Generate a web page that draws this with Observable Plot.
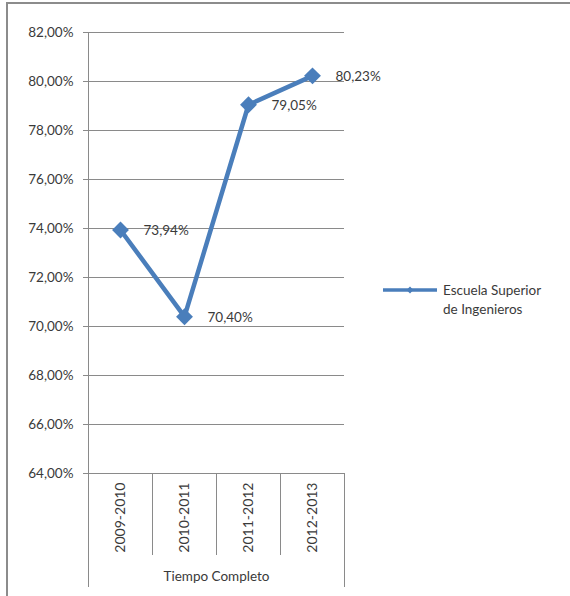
<!DOCTYPE html>
<html><head><meta charset="utf-8">
<script src="https://cdn.jsdelivr.net/npm/d3@7"></script>
<script src="https://cdn.jsdelivr.net/npm/@observablehq/plot@0.6"></script>
<style>
body{margin:0;background:#fff}
#chart{position:relative;width:570px;height:596px}
</style>
</head><body><div id="chart"></div>
<script>
const categories = ["2009-2010", "2010-2011", "2011-2012", "2012-2013"];
const values = [0.7394, 0.7040, 0.7905, 0.8023];
const yTicks = [0.64, 0.66, 0.68, 0.70, 0.72, 0.74, 0.76, 0.78, 0.80, 0.82];
const seriesName = ["Escuela Superior", "de Ingenieros"];
const axisTitle = "Tiempo Completo";

const data = categories.map((c, i) => ({cat: c, value: values[i]}));
const fmt = v => (v * 100).toFixed(2).replace(".", ",") + "%";

const W = 570, H = 596, mL = 88, mR = 226, mT = 32, mB = 123;
const blue = "#4a7ebb", gray = "#8a8a8a", ink = "#3a3a3a";
const font = "Lato, 'Open Sans', sans-serif";
const fs = "13.5px";

const plot = Plot.plot({
  width: W, height: H,
  marginLeft: mL, marginRight: mR, marginTop: mT, marginBottom: mB,
  style: {fontFamily: font, fontSize: fs, color: ink, background: "white", overflow: "visible"},
  x: {type: "band", domain: categories, padding: 0, label: null},
  y: {domain: [0.64, 0.82], label: null},
  marks: [
    Plot.gridY(yTicks, {stroke: gray, strokeOpacity: 1}),
    Plot.axisY(yTicks, {tickFormat: fmt, tickSize: 5, tickPadding: 10, stroke: gray, fill: ink, label: null}),
    Plot.axisX({tickRotate: -90, tickSize: 0, tickPadding: 9, label: null, fill: ink, fontSize: 14}),
    Plot.text([axisTitle], {text: d => d, frameAnchor: "bottom", lineAnchor: "middle", dy: 103, fill: ink}),
    Plot.line(data, {x: "cat", y: "value", stroke: blue, strokeWidth: 4.5}),
    Plot.dot(data, {x: "cat", y: "value", symbol: "diamond2", r: 7.6, fill: blue, stroke: "none"}),
    Plot.text(data, {x: "cat", y: "value", text: d => fmt(d.value), textAnchor: "start", dx: 23, dy: 1, fill: ink})
  ]
});

document.getElementById("chart").appendChild(plot);

// structural lines using the plot's own x scale
const svg = d3.select(plot);
const xs = plot.scale("x");
const bottom = H - mB;
const g = svg.append("g").attr("stroke", gray).attr("stroke-width", 1).attr("shape-rendering", "crispEdges");
const left = xs.apply(categories[0]);
const right = xs.apply(categories[categories.length - 1]) + xs.bandwidth;
g.append("line").attr("x1", left).attr("x2", left).attr("y1", mT).attr("y2", bottom + 114);
g.append("line").attr("x1", right).attr("x2", right).attr("y1", bottom).attr("y2", bottom + 114);
categories.slice(1).forEach(c => {
  const x = xs.apply(c);
  g.append("line").attr("x1", x).attr("x2", x).attr("y1", bottom).attr("y2", bottom + 82);
});

// outer chart border (top and left)
const b = svg.append("g").attr("stroke", "#8c8c8c").attr("stroke-width", 2);
b.append("line").attr("x1", 6).attr("x2", W).attr("y1", 3).attr("y2", 3);
b.append("line").attr("x1", 7).attr("x2", 7).attr("y1", 2).attr("y2", H);

// legend
const lg = svg.append("g").attr("transform", "translate(383,290)");
lg.append("line").attr("x1", 0).attr("x2", 54).attr("y1", 0).attr("y2", 0)
  .attr("stroke", blue).attr("stroke-width", 3.5);
lg.append("path").attr("d", d3.symbol(d3.symbolDiamond2, 30)()).attr("transform", "translate(27,0)").attr("fill", blue);
const lt = lg.append("g").attr("text-anchor", "start").attr("font-family", font).attr("font-size", fs).attr("fill", ink);
lt.append("text").attr("x", 60).attr("y", 0).attr("dy", "0.35em").text(seriesName[0]);
lt.append("text").attr("x", 60).attr("y", 19).attr("dy", "0.35em").text(seriesName[1]);
</script>
</body></html>
